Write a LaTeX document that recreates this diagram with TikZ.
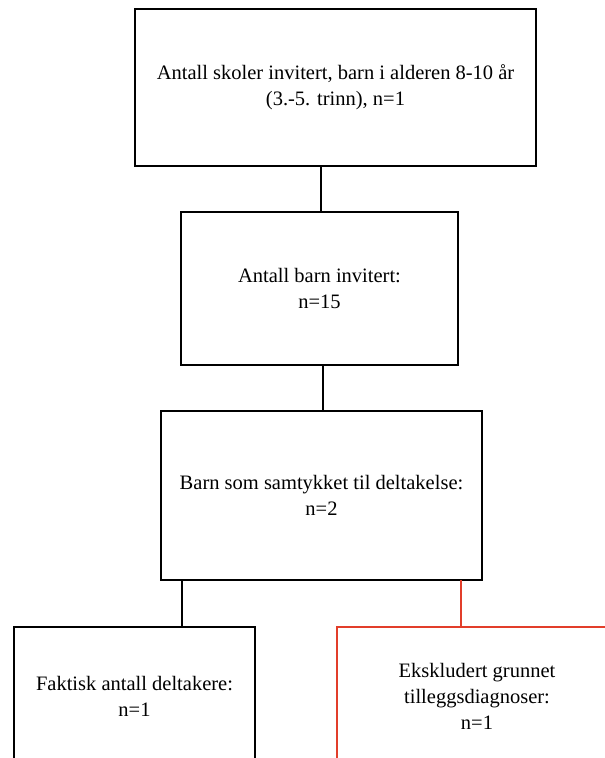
\documentclass[tikz,border=0pt]{standalone}
\usepackage{fontspec}
\setmainfont{Liberation Serif}
\usetikzlibrary{positioning}
\definecolor{exred}{RGB}{226,62,42}
\tikzset{
  box/.style={draw,line width=1.8pt,fill=white,align=center,inner sep=0pt,outer sep=0pt,font=\fontsize{20.5}{26}\selectfont},
  redbox/.style={box,draw=exred,line width=1.5pt},
  link/.style={line width=2.8pt},
  redlink/.style={line width=2pt,exred},
}

\begin{document}
\begin{tikzpicture}[x=1pt,y=1pt]
  \path[use as bounding box,clip] (0,0) rectangle (605,-758);
  \fill[white] (0,0) rectangle (605,-758);
  \node[box,minimum width=401pt,minimum height=157pt] (1) at (335.5,-87.5) {Antall skoler invitert, barn i alderen 8-10 år\\(3.-5. trinn), n=1};
  \node[box,minimum width=277pt,minimum height=153pt,below=46pt of 1,xshift=-16pt] (2) {Antall barn invitert:\\n=15};
  \node[box,minimum width=321pt,minimum height=169pt,below=46pt of 2,xshift=2pt] (3) {Barn som samtykket til deltakelse:\\n=2};
  \node[box,minimum width=241pt,minimum height=138pt,anchor=north west] (4) at (14,-627) {Faktisk antall deltakere:\\n=1};
  \node[redbox,minimum width=280pt,minimum height=138pt,anchor=north west] (5) at (337,-627) {Ekskludert grunnet\\tilleggsdiagnoser:\\n=1};
  \draw[link] ([xshift=1.5pt]2.north) -- ([xshift=1.5pt]2.north |- 1.south);
  \draw[link] ([xshift=1.5pt]3.north) -- ([xshift=1.5pt]3.north |- 2.south);
  \draw[link] ([xshift=21pt]3.south west) -- ([xshift=21pt]3.south west |- 4.north);
  \draw[redlink] ([xshift=-21pt]3.south east) -- ([xshift=-21pt]3.south east |- 5.north);
\end{tikzpicture}
\end{document}
